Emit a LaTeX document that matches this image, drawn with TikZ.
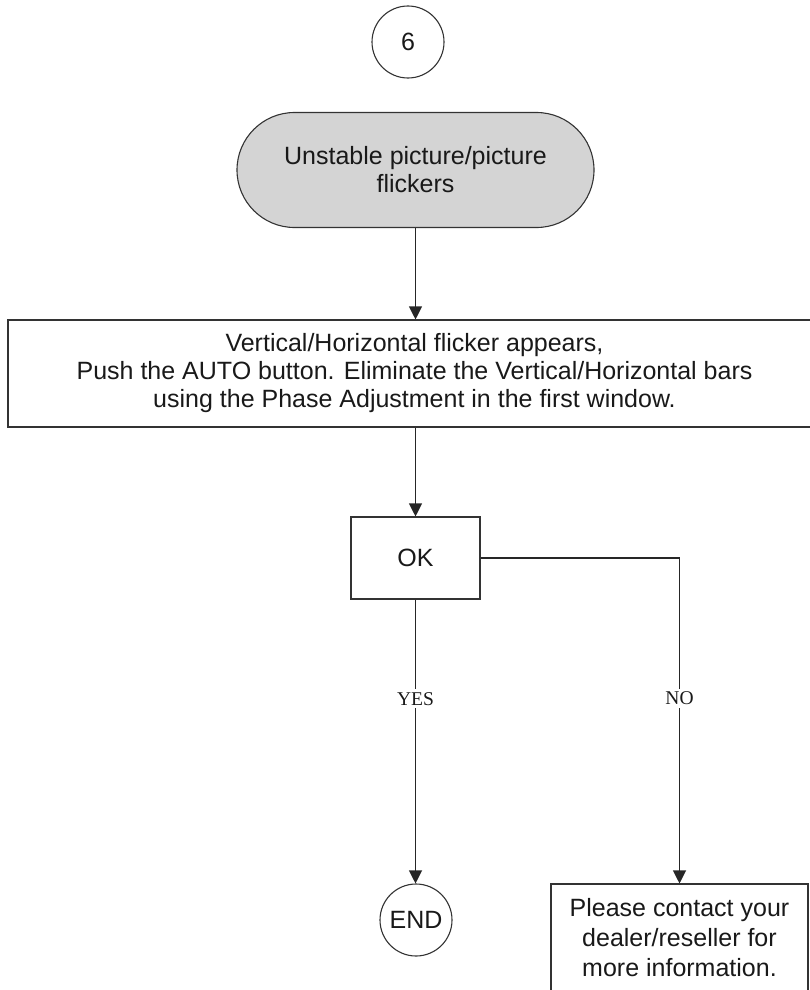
\documentclass[tikz,border=0pt]{standalone}
\usepackage{fontspec}
\setmainfont{Liberation Sans}
\newfontfamily\answerfont{Liberation Serif}
\usetikzlibrary{arrows.meta}

\begin{document}
\begin{tikzpicture}[x=1pt, y=-1pt, font=\fontsize{25}{28}\selectfont,
		box/.style={draw=black!80, line width=1.1pt, text=black!90, align=center, inner sep=0pt},
		circ/.style={circle, draw=black!80, line width=1.1pt, text=black!90, minimum size=72pt, inner sep=0pt},
		flow/.style={draw=black!85, line width=1.1pt, -{Triangle[length=13pt,width=13pt]}},
		answer/.style={fill=white, text=black!90, font=\answerfont\fontsize{19.5}{22}\selectfont, inner sep=3pt}]
			\useasboundingbox (0,0) rectangle (810,990);
			\node[circ] (start) at (408,42) {6};
			\node[box, fill=black!17, rounded corners=57.5pt, minimum width=357pt, minimum height=115pt] (problem) at (415.5,170) {Unstable picture/picture\\flickers};
			\node[box, minimum width=813pt, minimum height=107pt] (adjust) at (414.5,373.5) {Vertical/Horizontal flicker appears,\\Push the AUTO button. Eliminate the Vertical/Horizontal bars\\using the Phase Adjustment in the first window.};
			\node[box, minimum width=129pt, minimum height=82pt] (check) at (415.5,558) {OK};
			\node[circ] (end) at (416,920) {END};
			\node[box, minimum width=257pt, minimum height=108pt, font=\fontsize{25}{30}\selectfont] (contact) at (679.5,938) {Please contact your\\dealer/reseller for\\more information.};
			\draw[flow] (problem.south) -- (problem.south |- adjust.north);
			\draw[flow] (check.north |- adjust.south) -- (check.north);
			\draw[flow] (check.south) -- node[answer, pos=0.35] {YES} (check.south |- end.north);
			\draw[flow] (check.east) -| node[answer, pos=0.716] {NO} (contact.north);
	\end{tikzpicture}
\end{document}
